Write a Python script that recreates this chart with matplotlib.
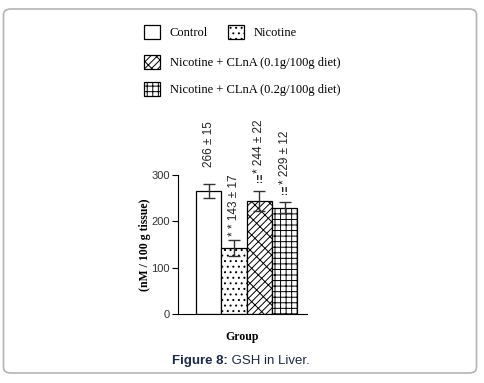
import matplotlib
matplotlib.use("Agg")
import matplotlib.pyplot as plt
from matplotlib.patches import FancyBboxPatch

# data
groups = ["Control", "Nicotine",
          "Nicotine + CLnA (0.1g/100g diet)",
          "Nicotine + CLnA (0.2g/100g diet)"]
means = [266, 143, 244, 229]
errors = [15, 17, 22, 12]
stars = ["   ", "* *", "*", "*"]
sig = ["", "", "!!", "!!"]
hatches = ["", "...", "/////\\\\", "+++"]
yticks = [0, 100, 200, 300]

plt.rcParams["hatch.linewidth"] = 0.7
serif = ["Liberation Serif", "DejaVu Serif"]
sans = ["Liberation Sans", "DejaVu Sans"]

fig = plt.figure(figsize=(4.85, 3.83), dpi=100)

# rounded frame around the figure
frame = FancyBboxPatch((3.5 / 485, 10 / 383), 473 / 485, 364 / 383,
                       boxstyle="round,pad=0,rounding_size=0.015",
                       transform=fig.transFigure, fill=False,
                       edgecolor="#b4b4b4", linewidth=1.2)
fig.patches.append(frame)

ax = fig.add_axes([178 / 485, 69 / 383, 129 / 485, 139 / 383])

x = list(range(len(means)))
bars = ax.bar(x, means, width=1.0, color="white", edgecolor="black",
              linewidth=0.9, label=groups)
for b, h in zip(bars, hatches):
    b.set_hatch(h)
ax.errorbar(x, means, yerr=errors, fmt="none", ecolor="#333333",
            elinewidth=1, capsize=4, capthick=1)

for xi, m, e, st, sg in zip(x, means, errors, stars, sig):
    lift = 3
    if sg:
        ax.annotate(sg, xy=(xi, m + e), xytext=(0, 4),
                    textcoords="offset points", ha="center", va="bottom",
                    fontsize=7.5, family=sans, fontweight="bold",
                    color="#222222", annotation_clip=False)
        lift = 13
    ax.annotate(f"{st} {m} ± {e}", xy=(xi, m + e), xytext=(0, lift),
                textcoords="offset points", rotation=90, ha="center",
                va="bottom", fontsize=8.5, family=sans, color="#222222",
                annotation_clip=False)

ax.set_xlim(-1.21, 3.88)
ax.set_ylim(0, 300)
ax.set_yticks(yticks)
ax.set_xticks([])
ax.spines["top"].set_visible(False)
ax.spines["right"].set_visible(False)
ax.tick_params(axis="y", length=4, width=0.8, pad=2, labelsize=8)
for t in ax.get_yticklabels():
    t.set_family(sans)
    t.set_color("#333333")
ax.set_ylabel("(nM / 100 g tissue)", fontsize=8.5, family=serif,
              fontweight="bold", labelpad=0)
ax.set_xlabel("Group", fontsize=8.5, family=serif, fontweight="bold",
              labelpad=12)

# legend: Control + Nicotine on one row, the two CLnA groups below
leg_kw = dict(frameon=False, prop={"family": serif, "size": 9},
              handlelength=1.3, handleheight=1.3, handletextpad=0.75,
              borderpad=0, borderaxespad=0, loc="upper left")
fig.legend(bars[:2], groups[:2], ncol=2, columnspacing=1.6,
           bbox_to_anchor=(144 / 485, 1 - 25 / 383), **leg_kw)
fig.legend(bars[2:3], groups[2:3],
           bbox_to_anchor=(144 / 485, 1 - 55 / 383), **leg_kw)
fig.legend(bars[3:4], groups[3:4],
           bbox_to_anchor=(144 / 485, 1 - 82 / 383), **leg_kw)

# caption
cap = fig.text(172 / 485, 1 - 361 / 383, "Figure 8:", fontsize=9.5,
               family=sans, fontweight="bold", color="#1c2a48",
               va="center", ha="left")
ax.annotate(" GSH in Liver.", xy=(1, 0.5), xycoords=cap, va="center",
            ha="left", fontsize=9.5, family=sans, color="#1c2a48")

fig.savefig("out.png", dpi=100)
